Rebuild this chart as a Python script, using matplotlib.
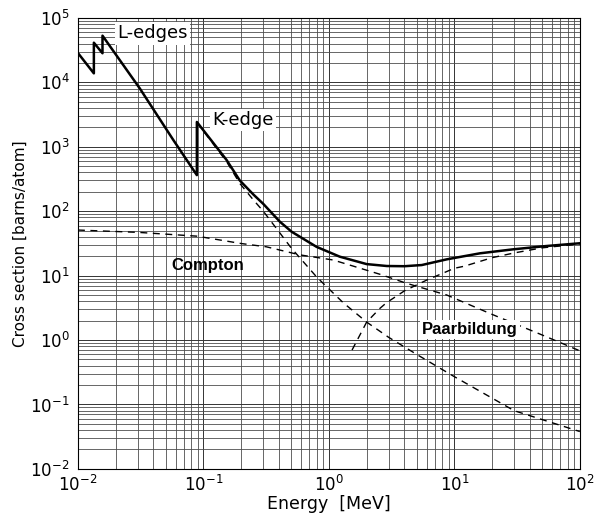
"""
plot.py
-------
Photon cross sections for lead: total, photo effect, Compton and pair production.
"""
import matplotlib
matplotlib.use("Agg")
import matplotlib.pyplot as plt

# total cross section (solid), with L- and K-edges
total_e = [0.0100, 0.0134, 0.0134, 0.0157, 0.0157, 0.0312, 0.0575, 0.0887,
           0.0887, 0.153, 0.195, 0.25, 0.30, 0.407, 0.505, 0.797, 1.22, 2.0,
           2.9, 4.0, 5.5, 8.7, 16.0, 29.4, 54.0, 100.0]
total_cs = [28600, 13800, 41300, 28300, 53100, 8000, 1280, 363,
            2430, 624, 300, 182, 130, 68.7, 48, 28, 19.7, 15.1,
            14.1, 14.0, 14.6, 17.9, 22.2, 25.6, 28.8, 31.8]

# photo effect (dashed), hidden under the total line below ~0.15 MeV
photo_e = [0.0887, 0.153, 0.195, 0.25, 0.30, 0.40, 0.50, 0.80, 1.3, 2.0,
           3.0, 5.0, 10.0, 30.0, 100.0]
photo_cs = [2390, 590, 270, 150, 100, 48, 27, 9.5, 3.8, 1.9,
            1.1, 0.6, 0.27, 0.08, 0.038]

# Compton scattering (dashed)
compton_e = [0.0100, 0.03, 0.0887, 0.2, 0.318, 0.587, 1.08, 2.55, 4.16,
             8.7, 20.0, 50.0, 100.0]
compton_cs = [51, 47, 41, 31.5, 28, 21, 17.5, 10.5, 7.6,
              5.0, 2.5, 1.2, 0.68]

# pair production (dashed)
pair_e = [1.53, 2.0, 2.55, 2.88, 4.0, 6.0, 10.0, 12.0, 20.0, 30.0, 50.0, 100.0]
pair_cs = [0.70, 1.9, 3.1, 3.8, 5.8, 8.5, 13.0, 14.0, 19.0, 22.5, 27.0, 31.0]

fig = plt.figure(figsize=(6.04, 5.13), dpi=100)
ax = fig.add_axes([0.129, 0.086, 0.831, 0.879])

dash = dict(color="black", lw=1.0, linestyle=(0, (5, 4)))
ax.plot(photo_e, photo_cs, **dash)
ax.plot(compton_e, compton_cs, **dash)
ax.plot(pair_e, pair_cs, **dash)
ax.plot(total_e, total_cs, color="black", lw=1.8)

ax.set_xscale("log")
ax.set_yscale("log")
ax.set_xlim(1e-2, 1e2)
ax.set_ylim(1e-2, 1e5)

ax.grid(which="major", color="0.2", lw=0.7)
ax.grid(which="minor", color="0.3", lw=0.6)
ax.tick_params(which="both", length=0, labelsize=12)
ax.tick_params(axis="x", pad=4)
ax.tick_params(axis="y", pad=6)
for s in ax.spines.values():
    s.set_linewidth(0.8)

ax.set_xlabel("Energy  [MeV]", fontsize=12.5, labelpad=0)
ax.set_ylabel("Cross section [barns/atom]", fontsize=11, labelpad=2)

box = dict(facecolor="white", edgecolor="none", pad=1.5)
ax.text(0.0206, 5.75e4, "L-edges", fontsize=13, va="center", ha="left", bbox=box)
ax.text(0.118, 2.6e3, "K-edge", fontsize=13, va="center", ha="left", bbox=box)
ax.text(0.1086, 14.6, "Compton", fontsize=12, fontweight="bold",
        family="Liberation Sans", ha="center", va="center")
ax.text(13.3, 1.48, "Paarbildung", fontsize=12, fontweight="bold",
        family="Liberation Sans", ha="center", va="center", bbox=box)

fig.savefig("out.png", dpi=100)
